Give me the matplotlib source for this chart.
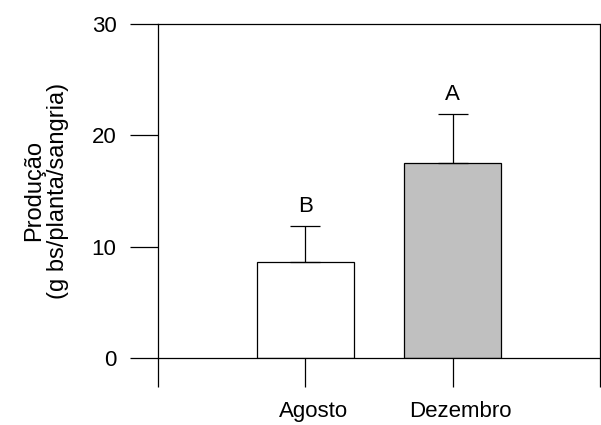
import matplotlib
matplotlib.use("Agg")
import matplotlib.pyplot as plt
from matplotlib.transforms import ScaledTranslation

categories = ["Agosto", "Dezembro"]
values = [8.6, 17.5]
errors = [3.3, 4.4]
letters = ["B", "A"]
colors = ["white", "#c0c0c0"]

plt.rcParams['font.family'] = ['Liberation Sans', 'DejaVu Sans']

fig = plt.figure(figsize=(6.01, 4.25), dpi=100)
ax = fig.add_axes([0.263, 0.1576, 0.7354, 0.786])

pos = [1, 2]
ax.bar(pos, values, width=0.66, color=colors, edgecolor='black', linewidth=0.9, zorder=2)
ax.errorbar(pos, values, yerr=[[0, 0], errors], fmt='none', ecolor='black',
            elinewidth=0.9, capsize=11, capthick=0.9, zorder=3)
for p, v, e, l in zip(pos, values, errors, letters):
    ax.text(p, v + e + 0.8, l, ha='center', va='bottom', fontsize=16)

ax.set_xlim(0, 3)
ax.set_ylim(0, 30)
ax.set_yticks([0, 10, 20, 30])
ax.set_xticks([0, 1, 2, 3])
ax.set_xticklabels(["", categories[0], categories[1], ""])
ax.tick_params(axis='y', direction='out', length=20, width=0.9, labelsize=16, pad=10)
ax.tick_params(axis='x', direction='out', length=21, width=0.9, labelsize=16, pad=10)
for lbl in ax.get_xticklabels():
    lbl.set_transform(lbl.get_transform() + ScaledTranslation(8/100, 0, fig.dpi_scale_trans))
for s in ax.spines.values():
    s.set_linewidth(0.9)
ax.set_ylabel("Produção\n(g bs/planta/sangria)", fontsize=17, labelpad=16, linespacing=1.15)

fig.savefig("out.png", dpi=100)
